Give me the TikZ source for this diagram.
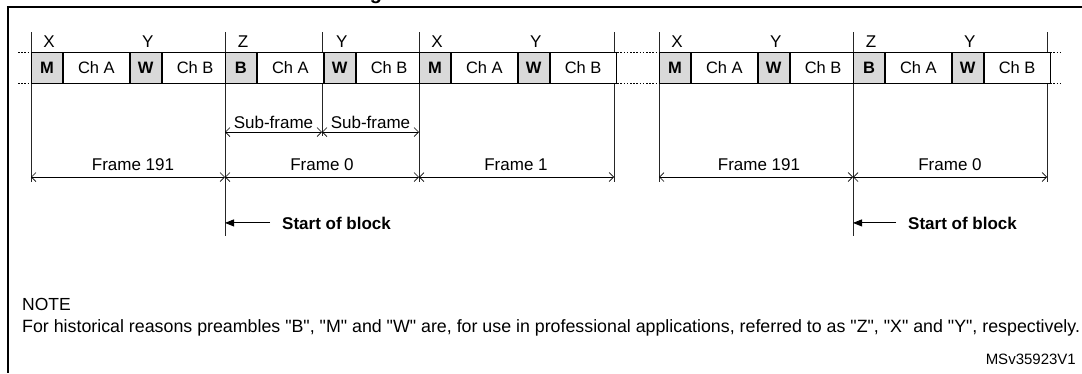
\documentclass[tikz,border=0pt]{standalone}
\usepackage{fontspec}
\setmainfont{Liberation Sans}[Ligatures=TeXOff]
\usetikzlibrary{arrows.meta,calc}
\tikzset{
  pre/.style={draw=black, fill=black!15, line width=0.9pt, minimum width=31pt, minimum height=31pt, inner sep=0pt, anchor=west, font=\fontsize{16.5}{18}\selectfont\bfseries},
  chbox/.style={draw=black, fill=white, line width=0.9pt, minimum width=66pt, minimum height=31pt, inner sep=0pt, anchor=west, font=\fontsize{16.5}{18}\selectfont},
  lbl/.style={font=\fontsize{17}{19}\selectfont, inner sep=0pt},
  boldlbl/.style={font=\fontsize{17}{19}\selectfont\bfseries, inner sep=0pt},
  dim/.style={line width=0.7pt, {Straight Barb[length=4.5pt,width=9pt]}-{Straight Barb[length=4.5pt,width=9pt]}},
  vline/.style={line width=0.8pt, draw=black!85},
  dotl/.style={line width=0.8pt, dash pattern=on 1.6pt off 1.6pt},
  border/.style={line width=2.5pt},
  sbarrow/.style={line width=0.9pt, -{Triangle[length=9pt,width=7pt]}},
}
\newcommand\sframe[4]{%
  \node[pre] (#2p1) at (#1,67.5) {#3};
  \node[chbox] (#2a) at (#2p1.east) {Ch A};
  \node[pre] (#2p2) at (#2a.east) {W};
  \node[chbox] (#2b) at (#2p2.east) {Ch B};
  \node[lbl,anchor=base] (#2l1) at ($(#2p1.center)+(2,-20.5)$) {#4};
  \node[lbl,anchor=base] (#2l2) at ($(#2p2.center)+(2,-20.5)$) {Y};
}
\begin{document}
\begin{tikzpicture}[x=1pt,y=-1pt]
\useasboundingbox (0,0) rectangle (1082,373);
% cut-off title
\node[anchor=base,font=\fontsize{20}{24}\selectfont\bfseries,inner sep=0pt] (ttl) at (376,-1) {g};
% border
\coordinate (bTL) at (8,7);
\coordinate (bTR) at (1082,7);
\coordinate (bBL) at (8,373);
\draw[border] ([xshift=-1.25pt]bTL) -- (bTR);
\draw[border] (bTL) -- (bBL);
% extension lines
\foreach \x/\b [count=\i] in {31/182, 225/236, 322/136, 419/182, 614/182, 659/182, 853/236, 1047/182} {
  \coordinate (vt\i) at (\x,32);
  \coordinate (vb\i) at (\x,\b);
  \draw[vline] (vt\i) -- (vb\i);
}
% dotted continuation lines
\foreach \a/\b [count=\i] in {18/31, 614/659, 1047/1062} {
  \coordinate (da\i) at (\a,52);
  \coordinate (db\i) at (\b,52);
  \coordinate (dc\i) at (\a,83);
  \coordinate (dd\i) at (\b,83);
  \draw[dotl] (da\i) -- (db\i);
  \draw[dotl] (dc\i) -- (dd\i);
}
% frames
\sframe{31}{fa}{M}{X}
\sframe{225}{fb}{B}{Z}
\sframe{419}{fc}{M}{X}
\sframe{659}{fd}{M}{X}
\sframe{853}{fe}{B}{Z}
% sub-frame dimensions
\coordinate (s0) at (225,132);
\coordinate (s1) at (322,132);
\coordinate (s2) at (419,132);
\draw[dim] (s0) -- (s1);
\draw[dim] (s1) -- (s2);
\node[lbl,anchor=base] (sf1) at (273.5,128) {Sub-frame};
\node[lbl,anchor=base] (sf2) at (370.5,128) {Sub-frame};
% frame dimensions
\coordinate (f0) at (31,177);
\coordinate (f1) at (225,177);
\coordinate (f2) at (419,177);
\coordinate (f3) at (614,177);
\coordinate (f4) at (659,177);
\coordinate (f5) at (853,177);
\coordinate (f6) at (1047,177);
\draw[dim] (f0) -- (f1);
\draw[dim] (f1) -- (f2);
\draw[dim] (f2) -- (f3);
\draw[dim] (f4) -- (f5);
\draw[dim] (f5) -- (f6);
\node[lbl,anchor=base] (fl1) at (133,170) {Frame 191};
\node[lbl,anchor=base] (fl2) at (322,170) {Frame 0};
\node[lbl,anchor=base] (fl3) at (516,170) {Frame 1};
\node[lbl,anchor=base] (fl4) at (759,170) {Frame 191};
\node[lbl,anchor=base] (fl5) at (950,170) {Frame 0};
% start of block
\node[boldlbl,anchor=base west] (sb1) at (282,229) {Start of block};
\node[boldlbl,anchor=base west] (sb2) at (908,229) {Start of block};
\draw[sbarrow] ([xshift=-12pt]sb1.west) -- (vb2 |- sb1.west);
\draw[sbarrow] ([xshift=-12pt]sb2.west) -- (vb7 |- sb2.west);
% note
\node[anchor=base west,inner sep=0pt,font=\fontsize{17.5}{20}\selectfont] (note) at (22,310) {NOTE};
\node[anchor=base west,inner sep=0pt,font=\fontsize{17.8}{20}\selectfont] (notetxt) at (22,332) {For historical reasons preambles "B", "M" and "W" are, for use in professional applications, referred to as "Z", "X" and "Y", respectively.};
\node[anchor=base east,inner sep=0pt,font=\fontsize{15}{17}\selectfont] (id) at (1076,364) {MSv35923V1};
\end{tikzpicture}
\end{document}
